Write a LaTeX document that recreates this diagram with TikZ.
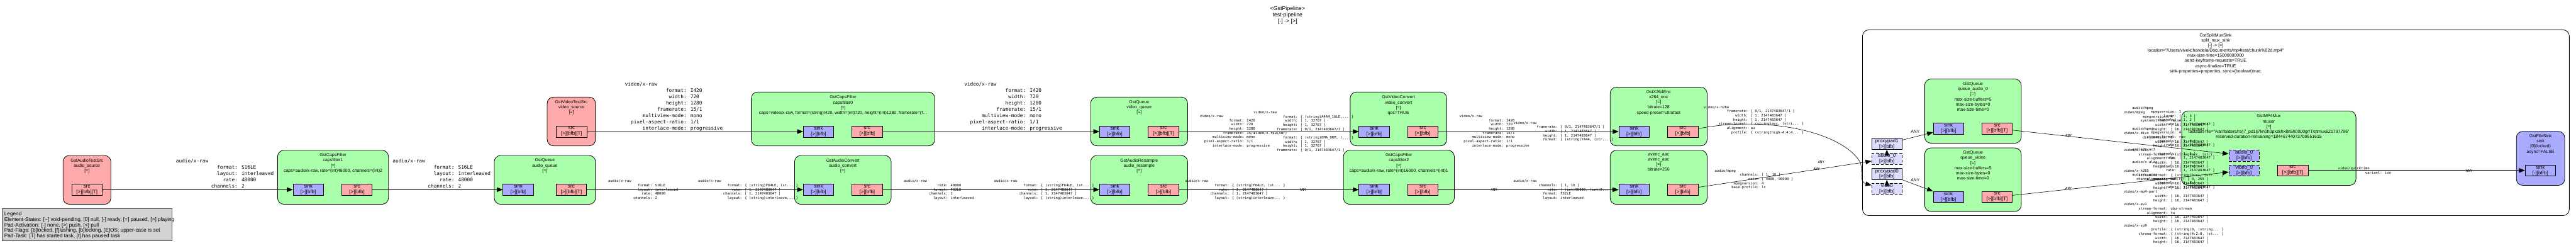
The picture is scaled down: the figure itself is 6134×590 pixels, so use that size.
\documentclass[tikz,border=0pt]{standalone}
\usepackage{fontspec}
\setmainfont{Liberation Sans}
\newfontfamily\monof{DejaVu Sans Mono}
\usetikzlibrary{arrows.meta,fit}
\definecolor{elgreen}{HTML}{AAFFAA}
\definecolor{elred}{HTML}{FFAAAA}
\definecolor{elblue}{HTML}{AAAAFF}
\definecolor{ghostc}{HTML}{DDDDFF}
\definecolor{legendbg}{HTML}{D3D3D3}
\definecolor{legendln}{HTML}{444444}
\lineskiplimit=-100pt
\newlength\cw
\newcommand\cf[2]{\settowidth{\cw}{0}\makebox[20\cw][r]{#1}: #2}
\newcommand\cfl[2]{\settowidth{\cw}{0}\hspace*{2\cw}#1: #2}
\newcommand\capsAsrc{audio/x-raw\\\cf{format}{S16LE}\\\cf{layout}{interleaved}\\\cf{rate}{48000}\\\cf{channels}{2}}
\newcommand\capsVi{video/x-raw\\\cf{format}{I420}\\\cf{width}{720}\\\cf{height}{1280}\\\cf{framerate}{15/1}\\\cf{multiview-mode}{mono}\\\cf{pixel-aspect-ratio}{1/1}\\\cf{interlace-mode}{progressive}}
\newcommand\capsAany{audio/x-raw\\\cf{format}{\{ (string)F64LE, (st... \}}\\\cf{rate}{[ 1, 2147483647 ]}\\\cf{channels}{[ 1, 2147483647 ]}\\\cf{layout}{\{ (string)interleave... \}}}
\newcommand\capsWH{\\\cf{width}{[ 16, 2147483647 ]}\\\cf{height}{[ 16, 2147483647 ]}}
\tikzset{
  elembox/.style={draw, line width=1.2pt, rounded corners=15pt, inner sep=0pt},
  ttl/.style={font=\fontsize{10.4}{12.2}\selectfont, align=center, anchor=north, inner sep=0pt, yshift=4pt},
  padbox/.style={draw, line width=1pt, minimum width=72.5pt, minimum height=26.5pt, inner sep=0pt, font=\fontsize{11.8}{13.2}\selectfont, align=center},
  sinkpad/.style={padbox, fill=elblue},
  srcpad/.style={padbox, fill=elred},
  ghostpad/.style={padbox, fill=ghostc, dash pattern=on 7pt off 4pt},
  proxypad/.style={padbox, fill=ghostc},
  reqpad/.style={padbox, fill=elblue, dash pattern=on 7pt off 4pt},
  conn/.style={line width=0.9pt, -{Triangle[length=14pt,width=11pt]}},
  capsB/.style={font=\monof\fontsize{11.6}{15}\selectfont, align=left, anchor=north west, inner sep=0pt, yshift=4.9pt},
  capsS/.style={font=\monof\fontsize{8.3}{9.96}\selectfont, align=left, anchor=north west, inner sep=0pt, yshift=3.5pt},
  anyL/.style={font=\fontsize{10.2}{10.2}\selectfont, anchor=north west, inner sep=0pt, yshift=4pt},
}
\begin{document}
\begin{tikzpicture}[x=1pt,y=-1pt]
\useasboundingbox (0,0) rectangle (6134,590);
% bin
\node[elembox, fill=white, fit={(4435,71) (6118,513)}] (bin) {};
% elements
\node[elembox, fill=elred, fit={(150,370) (264,486)}] (asrc) {};
\node[elembox, fill=elgreen, fit={(661,357.6) (925,486)}] (cf1) {};
\node[elembox, fill=elgreen, fit={(1177,370) (1418,486)}] (aq) {};
\node[elembox, fill=elred, fit={(1303,231) (1418,347)}] (vsrc) {};
\node[elembox, fill=elgreen, fit={(1789,219) (2226,347)}] (cf0) {};
\node[elembox, fill=elgreen, fit={(1892,370) (2122,486)}] (ac) {};
\node[elembox, fill=elgreen, fit={(2597,231) (2828,347)}] (vq) {};
\node[elembox, fill=elgreen, fit={(2597,370) (2828,486)}] (ar) {};
\node[elembox, fill=elgreen, fit={(3215,219) (3445,347)}] (vc) {};
\node[elembox, fill=elgreen, fit={(3199,357.6) (3463,486)}] (cf2) {};
\node[elembox, fill=elgreen, fit={(3834,207.5) (4065,347)}] (x264) {};
\node[elembox, fill=elgreen, fit={(3834,357.6) (4065,486)}] (aac) {};
\node[elembox, fill=elgreen, fit={(4583,188) (4813,340.7)}] (qa) {};
\node[elembox, fill=elgreen, fit={(4583,352) (4813,503)}] (qv) {};
\node[elembox, fill=elgreen, fit={(5195,264) (5610,441)}] (mx) {};
\node[elembox, fill=elblue, fit={(5992,312.5) (6107,441)}] (fs) {};
% titles
\node[ttl] (asrc-t) at (207,381.3) {GstAudioTestSrc\\audio\_source\\{}[=]};
\node[ttl] (cf1-t) at (793,368.9) {GstCapsFilter\\capsfilter1\\{}[=]\\caps=audio/x-raw, rate=(int)48000, channels=(int)2};
\node[ttl] (aq-t) at (1297.5,381.3) {GstQueue\\audio\_queue\\{}[=]};
\node[ttl] (vsrc-t) at (1360.5,242.5) {GstVideoTestSrc\\video\_source\\{}[=]};
\node[ttl] (cf0-t) at (2007.5,231.2) {GstCapsFilter\\capsfilter0\\{}[=]\\caps=video/x-raw, format=(string)I420, width=(int)720, height=(int)1280, framerate=(f…};
\node[ttl] (ac-t) at (2007,381.3) {GstAudioConvert\\audio\_convert\\{}[=]};
\node[ttl] (vq-t) at (2712.5,242.5) {GstQueue\\video\_queue\\{}[=]};
\node[ttl] (ar-t) at (2712.5,381.3) {GstAudioResample\\audio\_resample\\{}[=]};
\node[ttl] (vc-t) at (3330,231.2) {GstVideoConvert\\video\_convert\\{}[=]\\qos=TRUE};
\node[ttl] (cf2-t) at (3331,368.9) {GstCapsFilter\\capsfilter2\\{}[=]\\caps=audio/x-raw, rate=(int)16000, channels=(int)1};
\node[ttl] (x264-t) at (3949.5,218.8) {GstX264Enc\\x264\_enc\\{}[=]\\bitrate=128\\speed-preset=ultrafast};
\node[ttl] (aac-t) at (3949.5,368.9) {avenc\_aac\\avenc\_aac\\{}[=]\\bitrate=256};
\node[ttl] (bin-t) at (5276,83.5) {GstSplitMuxSink\\split\_mux\_sink\\{}[-] -> [=]\\location="/Users/vivekchandela/Documents/mp4test/chunk\%02d.mp4"\\max-size-time=15000000000\\send-keyframe-requests=TRUE\\async-finalize=TRUE\\sink-properties=properties, sync=(boolean)true;};
\node[ttl] (qa-t) at (4698,199.7) {GstQueue\\queue\_audio\_0\\{}[=]\\max-size-buffers=5\\max-size-bytes=0\\max-size-time=0};
\node[ttl] (qv-t) at (4698,363.2) {GstQueue\\queue\_video\\{}[=]\\max-size-buffers=5\\max-size-bytes=0\\max-size-time=0};
\node[ttl] (mx-t) at (5402.5,276.4) {GstMP4Mux\\muxer\\{}[=]\\faststart-file="/var/folders/rs/j7\_pd1lj7kn0h0pxzkhx8n5h0000gr/T/qtmux621797796"\\reserved-duration-remaining=18446744073709551615};
\node[ttl] (fs-t) at (6049.5,323.7) {GstFileSink\\sink\\{}[0](locked)\\async=FALSE};
% pads
\node[srcpad] (as-src) at (207,451.2) {src\\{}[>][bfb][T]};
\node[sinkpad] (cf1-sink) at (734,451.2) {sink\\{}[>][bfb]};
\node[srcpad] (cf1-src) at (850,451.2) {src\\{}[>][bfb]};
\node[sinkpad] (aq-sink) at (1234,451.2) {sink\\{}[>][bfb]};
\node[srcpad] (aq-src) at (1360.5,451.2) {src\\{}[>][bfb][T]};
\node[srcpad] (vs-src) at (1361,313) {src\\{}[>][bfb][T]};
\node[sinkpad] (cf0-sink) at (1949,313) {sink\\{}[>][bfb]};
\node[srcpad] (cf0-src) at (2065,313) {src\\{}[>][bfb]};
\node[sinkpad] (ac-sink) at (1949,451.2) {sink\\{}[>][bfb]};
\node[srcpad] (ac-src) at (2065,451.2) {src\\{}[>][bfb]};
\node[sinkpad] (vq-sink) at (2654.5,313) {sink\\{}[>][bfb]};
\node[srcpad] (vq-src) at (2770.5,313) {src\\{}[>][bfb][T]};
\node[sinkpad] (ar-sink) at (2654.5,451.2) {sink\\{}[>][bfb]};
\node[srcpad] (ar-src) at (2770.5,451.2) {src\\{}[>][bfb]};
\node[sinkpad] (vc-sink) at (3272,313) {sink\\{}[>][bfb]};
\node[srcpad] (vc-src) at (3388,313) {src\\{}[>][bfb]};
\node[sinkpad] (cf2-sink) at (3272,451.2) {sink\\{}[>][bfb]};
\node[srcpad] (cf2-src) at (3388,451.2) {src\\{}[>][bfb]};
\node[sinkpad] (x264-sink) at (3891,313) {sink\\{}[>][bfb]};
\node[srcpad] (x264-src) at (4007,313) {src\\{}[>][bfb]};
\node[sinkpad] (aac-sink) at (3891,451.2) {sink\\{}[>][bfb]};
\node[srcpad] (aac-src) at (4007,451.2) {src\\{}[>][bfb]};
\node[proxypad] (pp1) at (4493,342.3) {proxypad1\\{}[>][bfb]};
\node[ghostpad] (ga0) at (4493,377.9) {audio\_0\\{}[>][bfb]};
\node[proxypad] (pp0) at (4493,414) {proxypad0\\{}[>][bfb]};
\node[ghostpad] (gv) at (4493,449.5) {video\\{}[>][bfb]};
\node[sinkpad] (qa-sink) at (4639.5,305.7) {sink\\{}[>][bfb]};
\node[srcpad] (qa-src) at (4755.5,305.7) {src\\{}[>][bfb][T]};
\node[sinkpad] (qv-sink) at (4639.5,468.7) {sink\\{}[>][bfb]};
\node[srcpad] (qv-src) at (4755.5,468.7) {src\\{}[>][bfb][T]};
\node[reqpad] (mx-a) at (5343.5,370) {audio\_0\\{}[>][bfb]};
\node[reqpad] (mx-v) at (5343.5,405.5) {video\_0\\{}[>][bfb]};
\node[srcpad] (mx-src) at (5459.5,405.5) {src\\{}[>][bfb][T]};
\node[sinkpad] (fs-sink) at (6049,405.5) {sink\\{}[-][bFb]};
% connectors
\draw[conn] (as-src) -- (cf1-sink);
\draw[conn] (cf1-src) -- (aq-sink);
\draw[conn] (aq-src) -- (ac-sink);
\draw[conn] (ac-src) -- (ar-sink);
\draw[conn] (ar-src) -- (cf2-sink);
\draw[conn] (cf2-src) -- (aac-sink);
\draw[conn] (vs-src) -- (cf0-sink);
\draw[conn] (cf0-src) -- (vq-sink);
\draw[conn] (vq-src) -- (vc-sink);
\draw[conn] (vc-src) -- (x264-sink);
\draw[conn] (x264-src) .. controls (4200,276) and (4380,310) .. (4428,383.5) .. controls (4438,399) and (4425,433) .. (gv);
\draw[conn] (aac-src) -- (ga0);
\draw[conn] ([yshift=-5pt]ga0.north) -- (pp1.south);
\draw[conn] ([yshift=-5pt]gv.north) -- (pp0.south);
\draw[conn] (pp1) -- (qa-sink);
\draw[conn] (pp0) -- (qv-sink);
\draw[conn] (qa-src) -- (mx-a);
\draw[conn] (qv-src) -- (mx-v);
\draw[conn] (mx-src) -- (fs-sink);
% caps labels
\node[capsB] (l-b1) at (419,383.5) {\capsAsrc};
\node[capsB] (l-b2) at (935,383.5) {\capsAsrc};
\node[capsB] (l-b3) at (1488,199.7) {\capsVi};
\node[capsB] (l-b4) at (2296,199.7) {\capsVi};
\node[capsS] (l-s1) at (1448,430.9) {\capsAsrc};
\node[capsS] (l-s2) at (1662,430.9) {\capsAany};
\node[capsS] (l-s3) at (2152,430.9) {audio/x-raw\\\cf{rate}{48000}\\\cf{format}{F32LE}\\\cf{channels}{1}\\\cf{layout}{interleaved}};
\node[capsS] (l-s4) at (2367,430.9) {\capsAany};
\node[capsS] (l-s5) at (2822,430.9) {\capsAany};
\node[capsS] (l-s6) at (3095,451.2) {ANY};
\node[capsS] (l-s7) at (3550,451.2) {ANY};
\node[capsS] (l-s8) at (3604,430.9) {audio/x-raw\\\cf{channels}{[ 1, 16 ]}\\\cf{rate}{\{ (int)96000, (int)8... \}}\\\cf{format}{F32LE}\\\cf{layout}{interleaved}};
\node[capsS] (l-s9) at (2857,276.4) {\capsVi};
\node[capsS] (l-s10) at (2985,267.3) {video/x-raw\\\cf{format}{\{ (string)A444\_16LE,... \}}\\\cf{width}{[ 1, 32767 ]}\\\cf{height}{[ 1, 32767 ]}\\\cf{framerate}{[ 0/1, 2147483647/1 ]}\\video/x-raw(ANY)\\\cf{format}{\{ (string)DMA\_DRM, (... \}}\\\cf{width}{[ 1, 32767 ]}\\\cf{height}{[ 1, 32767 ]}\\\cf{framerate}{[ 0/1, 2147483647/1 ]}};
\node[capsS] (l-s11) at (3475,276.4) {\capsVi};
\node[capsS] (l-s12) at (3604,292.2) {video/x-raw\\\cf{framerate}{[ 0/1, 2147483647/1 ]}\\\cf{width}{[ 1, 2147483647 ]}\\\cf{height}{[ 1, 2147483647 ]}\\\cf{format}{\{ (string)Y444, (str... \}}};
\node[capsS] (l-s13) at (4057,254.9) {video/x-h264\\\cf{framerate}{[ 0/1, 2147483647/1 ]}\\\cf{width}{[ 1, 2147483647 ]}\\\cf{height}{[ 1, 2147483647 ]}\\\cf{stream-format}{\{ (string)avc, (stri... \}}\\\cf{alignment}{au}\\\cf{profile}{\{ (string)high-4:4:4... \}}};
\node[capsS] (l-s14) at (4083,406.1) {audio/mpeg\\\cf{channels}{[ 1, 16 ]}\\\cf{rate}{[ 4000, 96000 ]}\\\cf{mpegversion}{4}\\\cf{base-profile}{lc}};
\node[capsS] (l-s15) at (4329,385.8) {ANY};
\node[capsS] (l-s16) at (4318,402.7) {ANY};
\node[capsS] (l-s17) at (4918,323.7) {ANY};
\node[capsS] (l-s18) at (4918,449) {ANY};
\node[capsS] (l-s19) at (5077,256.1) {audio/mpeg\\\cf{mpegversion}{1}\\\cf{layer}{[ 1, 3 ]}\\\cf{channels}{[ 1, 2 ]}\\\cf{rate}{[ 1, 2147483647 ]}\\audio/mpeg\\\cf{mpegversion}{4}\\\cf{stream-format}{raw}\\\cf{channels}{[ 1, 8 ]}\\\cf{rate}{[ 1, 2147483647 ]}\\audio/x-ac3\\\cf{channels}{[ 1, 6 ]}\\\cf{rate}{[ 1, 2147483647 ]}\\audio/x-alac\\\cf{channels}{[ 1, 2 ]}\\\cf{rate}{[ 1, 2147483647 ]}\\audio/x-opus\\\cfl{channel-mapping-family}{[ 0, 255 ]}\\\cf{channels}{[ 1, 8 ]}\\\cf{rate}{[ 1, 2147483647 ]}};
\node[capsS] (l-s20) at (5057,267.3) {video/mpeg\\\cf{mpegversion}{4}\\\cf{systemstream}{false}\capsWH\\video/x-divx\\\cf{divxversion}{5}\capsWH\\video/x-h264\\\cf{stream-format}{\{ (string)avc, (stri... \}}\\\cf{alignment}{au}\capsWH\\video/x-h265\\\cf{stream-format}{\{ (string)hvc1, (str... \}}\\\cf{alignment}{au}\capsWH\\video/x-mp4-part\capsWH\\video/x-av1\\\cf{stream-format}{obu-stream}\\\cf{alignment}{tu}\capsWH\\video/x-vp9\\\cf{profile}{\{ (string)0, (string... \}}\\\cf{chroma-format}{\{ (string)4:2:0, (st... \}}\capsWH};
\node[capsS] (l-s21) at (5567,400.4) {video/quicktime\\\cf{variant}{iso}};
\node[capsS] (l-s22) at (5872,406.1) {ANY};
\node[anyL] (l-a1) at (4550,313.6) {ANY};
\node[anyL] (l-a2) at (4550,428.6) {ANY};
% legend
\node[draw=legendln, fill=legendbg, line width=1.2pt, inner sep=0pt, fit={(5,496) (409,572)}] (legend) {};
\node[font=\fontsize{12.4}{13}\selectfont, align=left, anchor=north west, inner sep=0pt, yshift=4.7pt] (legend-t) at (10,508.7) {Legend\\Element-States: [\textasciitilde] void-pending, [0] null, [-] ready, [=] paused, [>] playing\\Pad-Activation: [-] none, [>] push, [<] pull\\Pad-Flags: [b]locked, [f]lushing, [b]locking, [E]OS; upper-case is set\\Pad-Task: [T] has started task, [t] has paused task};
% pipeline title
\node[font=\fontsize{13.2}{15}\selectfont, align=center, anchor=north, inner sep=0pt, yshift=5pt] (pipe-t) at (3066,19.2) {<GstPipeline>\\test-pipeline\\{}[-] -> [>]};
\end{tikzpicture}
\end{document}
